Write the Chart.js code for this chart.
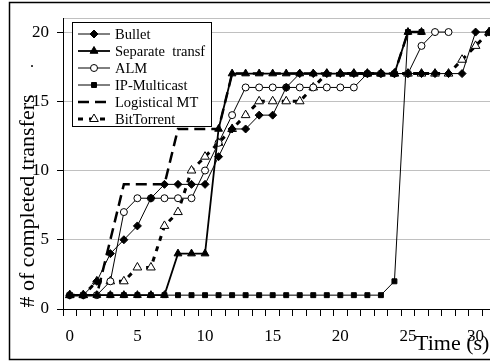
<!DOCTYPE html>
<html>
<head>
<meta charset="utf-8">
<script src="https://cdn.jsdelivr.net/npm/chart.js@4.4.1/dist/chart.umd.min.js"></script>
<style>
  html, body { margin: 0; padding: 0; background: #fff; overflow: hidden; }
  #wrap { width: 490px; height: 363px; overflow: hidden; }
</style>
</head>
<body>
<div id="wrap"><canvas id="chart" width="556" height="363"></canvas></div>
<script>
// ============================================
// DATA (time in seconds, one value per second)
// ============================================
const times = Array.from({ length: 36 }, (_, i) => String(i));
const yTicks = [0, 5, 10, 15, 20, 21];

const bullet      = [1,1,2,4,5,6,8,9,9,9,9,11,13,13,14,14,16,17,17,17,17,17,17,17,17,17,17,17,17,17,20,20];
const separate    = [1,1,1,1,1,1,1,1,4,4,4,13,17,17,17,17,17,17,17,17,17,17,17,17,17,20,20];
const alm         = [1,1,1,2,7,8,8,8,8,8,10,12,14,16,16,16,16,16,16,16,16,16,17,17,17,17,19,20,20];
const ipMulticast = [1,1,1,1,1,1,1,1,1,1,1,1,1,1,1,1,1,1,1,1,1,1,1,1,2,20,20];
const logistical  = [1,1,1,5,9,9,9,9,13,13,13,13,17,17,17,17,17,17,17,17,17,17,17,17,17,20,20];
const bitTorrent  = [1,1,2,2,2,3,3,6,7,10,11,12,13,14,15,15,15,15,16,17,17,17,17,17,17,17,17,17,17,18,19,20];

const FONT = "'Liberation Serif', 'Times New Roman', serif";

// frame, legend box and axis titles
const decorations = {
  id: 'decorations',
  beforeDraw(chart) {
    const ctx = chart.ctx;
    ctx.save();
    ctx.fillStyle = '#fff';
    ctx.fillRect(0, 0, chart.width, chart.height);
    ctx.restore();
  },
  afterDraw(chart) {
    const ctx = chart.ctx;
    ctx.save();
    // outer frame
    ctx.strokeStyle = '#000';
    ctx.lineWidth = 1.5;
    ctx.strokeRect(9.5, 2.5, 700, 357);

    // axis titles
    ctx.fillStyle = '#000';
    ctx.font = '22px ' + FONT;
    ctx.textBaseline = 'middle';
    ctx.textAlign = 'left';
    ctx.fillText('Time (s)', 415, 344);

    ctx.save();
    ctx.translate(28, 201);
    ctx.rotate(-Math.PI / 2);
    ctx.textAlign = 'center';
    ctx.fillText('# of completed transfers', 0, 0);
    ctx.restore();
    ctx.font = '16px ' + FONT;
    ctx.textAlign = 'center';
    ctx.fillText('.', 32, 63);

    // legend
    const box = { x: 72.5, y: 22.5, w: 139, h: 104 };
    ctx.fillStyle = '#fff';
    ctx.fillRect(box.x, box.y, box.w, box.h);
    ctx.strokeStyle = '#000';
    ctx.lineWidth = 1;
    ctx.strokeRect(box.x, box.y, box.w, box.h);

    ctx.font = '14.5px ' + FONT;
    ctx.textAlign = 'left';
    chart.data.datasets.forEach((ds, i) => {
      const y = 34 + i * 17;
      ctx.strokeStyle = '#000';
      ctx.lineWidth = ds.borderWidth;
      ctx.setLineDash(ds.borderDash || []);
      ctx.beginPath();
      ctx.moveTo(78, y);
      ctx.lineTo(110, y);
      ctx.stroke();
      ctx.setLineDash([]);
      if (ds.pointStyle) {
        ctx.fillStyle = ds.pointBackgroundColor;
        ctx.strokeStyle = '#000';
        ctx.lineWidth = 1;
        Chart.helpers.drawPoint(ctx, {
          pointStyle: ds.pointStyle, radius: ds.pointRadius, rotation: 0, borderWidth: 1
        }, 94, y);
      }
      ctx.fillStyle = '#000';
      ctx.fillText(ds.label, 115, y + 1);
    });
    ctx.restore();
  }
};

function series(label, data, style) {
  return Object.assign({
    label: label,
    data: data,
    borderColor: '#000',
    pointBorderColor: '#000',
    pointBorderWidth: 1,
    tension: 0,
    fill: false
  }, style);
}

new Chart(document.getElementById('chart'), {
  type: 'line',
  data: {
    labels: times,
    datasets: [
      series('Bullet', bullet, { borderWidth: 1, pointStyle: 'rectRot', pointRadius: 4, pointBackgroundColor: '#000' }),
      series('Separate  transf', separate, { borderWidth: 1.8, pointStyle: 'triangle', pointRadius: 4.5, pointBackgroundColor: '#000' }),
      series('ALM', alm, { borderWidth: 1, pointStyle: 'circle', pointRadius: 3.5, pointBackgroundColor: '#fff' }),
      series('IP-Multicast', ipMulticast, { borderWidth: 1, pointStyle: 'rect', pointRadius: 3.5, pointBackgroundColor: '#000' }),
      series('Logistical MT', logistical, { borderWidth: 2.5, borderDash: [11, 6], pointRadius: 0, pointStyle: false }),
      series('BitTorrent', bitTorrent, { borderWidth: 3, borderDash: [5, 6], pointStyle: 'triangle', pointRadius: 5, pointBackgroundColor: '#fff' })
    ]
  },
  options: {
    responsive: false,
    animation: false,
    devicePixelRatio: 1,
    layout: { padding: { top: 16, left: 0, right: 0, bottom: 0 } },
    plugins: {
      legend: { display: false },
      tooltip: { enabled: false }
    },
    scales: {
      x: {
        type: 'category',
        offset: true,
        afterFit: s => { s.height = 54; },
        grid: {
          offset: true,
          drawOnChartArea: false,
          tickLength: 7,
          tickColor: '#000'
        },
        border: { color: '#000', width: 1 },
        ticks: {
          autoSkip: false,
          maxRotation: 0,
          padding: 10,
          color: '#000',
          font: { family: FONT, size: 17 },
          callback: function(value, index) {
            return index % 5 === 0 && index <= 30 ? this.getLabelForValue(value) : '';
          }
        }
      },
      y: {
        min: 0,
        max: 21,
        afterFit: s => { s.width = 63; },
        afterBuildTicks: s => { s.ticks = yTicks.map(v => ({ value: v })); },
        grid: {
          color: '#c0c0c0',
          tickLength: 6,
          tickColor: c => (c.tick && c.tick.value % 5 === 0 ? '#000' : 'rgba(0,0,0,0)')
        },
        border: { color: '#000', width: 1 },
        ticks: {
          padding: 8,
          color: '#000',
          font: { family: FONT, size: 17 },
          callback: value => (value % 5 === 0 ? value : '')
        }
      }
    }
  },
  plugins: [decorations]
});
</script>
</body>
</html>
